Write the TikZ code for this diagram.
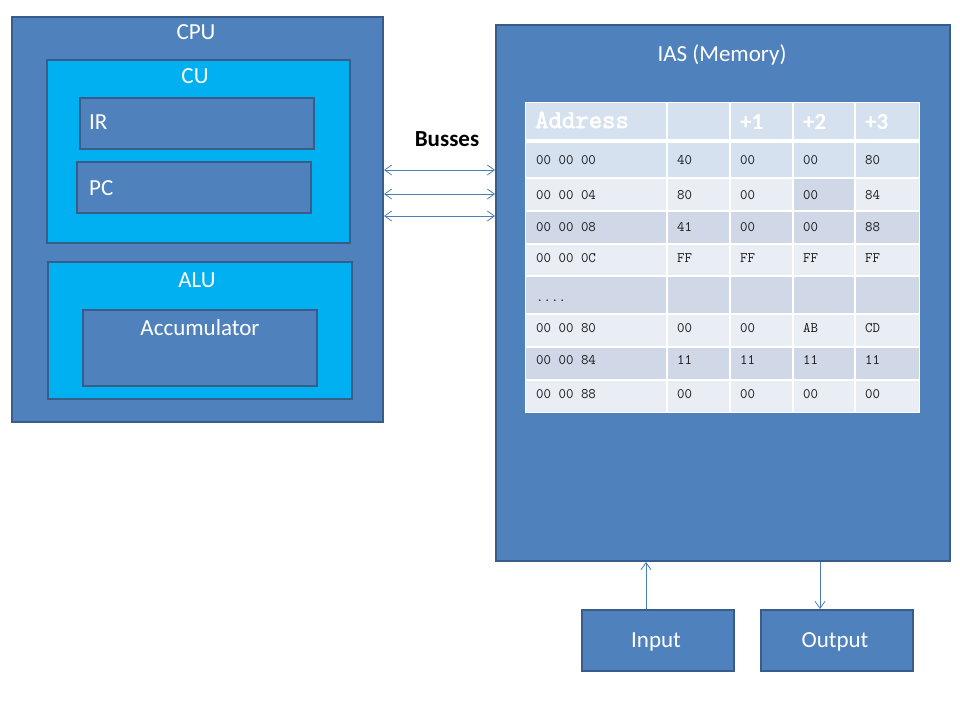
\documentclass[tikz,border=0pt]{standalone}
\usepackage{fontspec}
\setmainfont{Carlito}
\newfontfamily\hdrmono[FakeBold=2.5]{Latin Modern Mono}
\usetikzlibrary{arrows.meta}
\definecolor{boxblue}{HTML}{4F81BD}
\definecolor{boxedge}{HTML}{385D8A}
\definecolor{cyanfill}{HTML}{00B0F0}
\definecolor{arrowblue}{HTML}{4A7EBB}
\definecolor{rowa}{HTML}{D6E1F0}
\definecolor{rowb}{HTML}{E9EDF4}
\definecolor{rowc}{HTML}{D0D8E8}
\newcommand\lblfont{\fontsize{23}{27}\selectfont}
\begin{document}
\begin{tikzpicture}[x=1pt,y=-1pt,
  blk/.style={draw=boxedge, line width=2pt, fill=boxblue, anchor=north west, inner sep=0pt},
  cyanblk/.style={blk, fill=cyanfill},
  lbl/.style={text=white, font=\lblfont, inner sep=0pt, anchor=base},
  celltext/.style={text=black!90, font=\ttfamily\fontsize{14.5}{16}\selectfont, inner sep=0pt, anchor=base west},
  headmono/.style={text=white, font=\hdrmono\fontsize{26}{30}\selectfont, inner sep=0pt, anchor=base west},
  headsans/.style={text=white, font=\bfseries\fontsize{23}{27}\selectfont, inner sep=0pt, anchor=base west},
  busarrow/.style={draw=arrowblue, line width=0.8pt, {Straight Barb[length=7pt,width=10pt]}-{Straight Barb[length=7pt,width=10pt]}},
  ioarrow/.style={draw=arrowblue, line width=0.8pt, -{Straight Barb[length=7pt,width=10pt]}}
]
\useasboundingbox (0,0) rectangle (960,720);
\fill[white] (0,0) rectangle (960,720);

% CPU side
\node[blk, minimum width=371pt, minimum height=405pt] (cpu) at (11,16) {};
\node[lbl] (cpulbl) at (196,39) {CPU};
\node[cyanblk, minimum width=303pt, minimum height=183pt] (cu) at (46,59) {};
\node[lbl] (culbl) at (195,83) {CU};
\node[blk, minimum width=234pt, minimum height=51pt] (ir) at (79,97) {};
\node[lbl, anchor=base west] (irlbl) at (89,129) {IR};
\node[blk, minimum width=234pt, minimum height=51pt] (pc) at (76,161) {};
\node[lbl, anchor=base west] (pclbl) at (89,195) {PC};
\node[cyanblk, minimum width=304pt, minimum height=137pt] (alu) at (47,261) {};
\node[lbl] (alulbl) at (197,287) {ALU};
\node[blk, minimum width=234pt, minimum height=76pt] (acc) at (82,309) {};
\node[lbl] (acclbl) at (200,335) {Accumulator};

% Memory
\node[blk, minimum width=454pt, minimum height=536pt] (mem) at (495,24) {};
\node[lbl] (memlbl) at (722,61) {IAS (Memory)};

% Busses
\node[text=black, font=\bfseries\fontsize{23}{27}\selectfont, inner sep=0pt, anchor=base] (busses) at (447,146) {Busses};
\coordinate (b1) at (0,170);
\coordinate (b2) at (0,194);
\coordinate (b3) at (0,216);
\draw[busarrow] (cpu.east |- b1) -- (mem.west |- b1);
\draw[busarrow] (cpu.east |- b2) -- (mem.west |- b2);
\draw[busarrow] (cpu.east |- b3) -- (mem.west |- b3);

% Table backgrounds
\fill[rowa] (525,102) rectangle (919,178);
\fill[rowb] (525,178) rectangle (919,211);
\fill[rowc] (793,178) rectangle (855,211);
\fill[rowc] (525,211) rectangle (919,244);
\fill[rowb] (525,244) rectangle (919,276);
\fill[rowc] (525,276) rectangle (919,314);
\fill[rowb] (525,314) rectangle (919,347);
\fill[rowc] (525,347) rectangle (919,380);
\fill[rowb] (525,380) rectangle (919,412);
\foreach \xx in {667,730,793,855}
  \draw[white, line width=1.5pt] (\xx,102) -- (\xx,412);
\foreach \yy in {178,211,244,276,314,347,380}
  \draw[white, line width=1.5pt] (525,\yy) -- (919,\yy);
\draw[white, line width=3.5pt] (525,141) -- (919,141);
\draw[white, line width=1pt] (525,102) rectangle (919,412);

% Header
\node[headmono] (hAddr) at (535,128) {Address};
\node[headsans] (hp1) at (740,129) {+1};
\node[headsans] (hp2) at (803,129) {+2};
\node[headsans] (hp3) at (865,129) {+3};

% Cells
\foreach \r/\yb/\ca/\cb/\cc/\cd/\ce in {
  1/164/00 00 00/40/00/00/80,
  2/199/00 00 04/80/00/00/84,
  3/231/00 00 08/41/00/00/88,
  4/262/00 00 0C/FF/FF/FF/FF,
  6/332/00 00 80/00/00/AB/CD,
  7/364/00 00 84/11/11/11/11,
  8/398/00 00 88/00/00/00/00}{
  \node[celltext] (c\r a) at (536,\yb) {\ca};
  \node[celltext] (c\r b) at (677,\yb) {\cb};
  \node[celltext] (c\r c) at (740,\yb) {\cc};
  \node[celltext] (c\r d) at (803,\yb) {\cd};
  \node[celltext] (c\r e) at (865,\yb) {\ce};
}
\node[celltext] (c5a) at (536,301) {....};

% I/O
\node[blk, minimum width=152pt, minimum height=61pt] (input) at (581,609) {};
\node[lbl] (inlbl) at (656,647) {Input};
\node[blk, minimum width=152pt, minimum height=61pt] (output) at (760,609) {};
\node[lbl] (outlbl) at (835,647) {Output};
\coordinate (ia) at (646,0);
\coordinate (oa) at (820,0);
\draw[ioarrow] (input.north -| ia) -- (mem.south -| ia);
\draw[ioarrow] (mem.south -| oa) -- (output.north -| oa);
\end{tikzpicture}
\end{document}
